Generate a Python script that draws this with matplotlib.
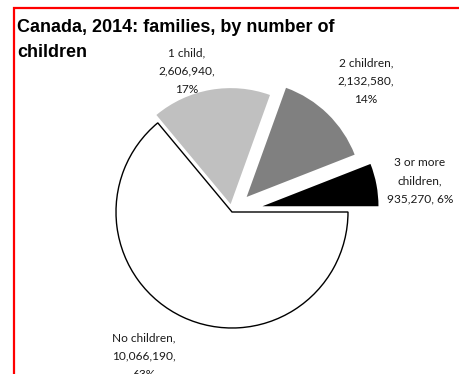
import matplotlib.pyplot as plt

# Canada, 2014: families by number of children
categories = ["3 or more\nchildren", "2 children", "1 child", "No children"]
families = [935270, 2132580, 2606940, 10066190]
percents = [6, 14, 17, 63]
value_seps = [", ", ",\n", ",\n", ",\n"]

colors = ["#000000", "#808080", "#c0c0c0", "#ffffff"]
explode_px = [31, 21, 8, 0]  # pie() offsets wedges in data units (= pixels here)

W, H = 459, 374
fig = plt.figure(figsize=(W / 100, H / 100), dpi=100)
ax = fig.add_axes([0, 0, 1, 1])

# work in pixel coordinates, y measured from the top of the picture
def py(y):
    return H - y

wedges, _ = ax.pie(families, colors=colors, explode=explode_px, startangle=0,
                   counterclock=True, radius=116, center=(232, py(212)),
                   wedgeprops=dict(linewidth=0))
wedges[-1].set_edgecolor("black")
wedges[-1].set_linewidth(1.0)

ax.set_xlim(0, W)
ax.set_ylim(0, H)
ax.set_aspect("equal")
ax.axis("off")

label_pos = [(420, 181), (366, 81), (187, 71), (144, 356)]
for name, val, pct, vsep, (x, y) in zip(categories, families, percents,
                                       value_seps, label_pos):
    txt = f"{name},\n{val:,}{vsep}{pct}%"
    ax.text(x, py(y), txt, ha="center", va="center", fontsize=8.6,
            family="Lato", linespacing=1.78, color="#1a1a1a")

ax.text(17, py(32), "Canada, 2014: families, by number of", ha="left",
        va="baseline", fontsize=13, fontweight="bold", family="Liberation Sans")
ax.text(17, py(57), "children", ha="left", va="baseline", fontsize=13,
        fontweight="bold", family="Liberation Sans")

# red chart border (right and bottom edges fall outside the picture)
ax.plot([14, 14, W + 10], [py(H + 10), py(8), py(8)], color="#ff0000",
        linewidth=1.6, solid_joinstyle="miter")

fig.savefig("out.png", dpi=100)
